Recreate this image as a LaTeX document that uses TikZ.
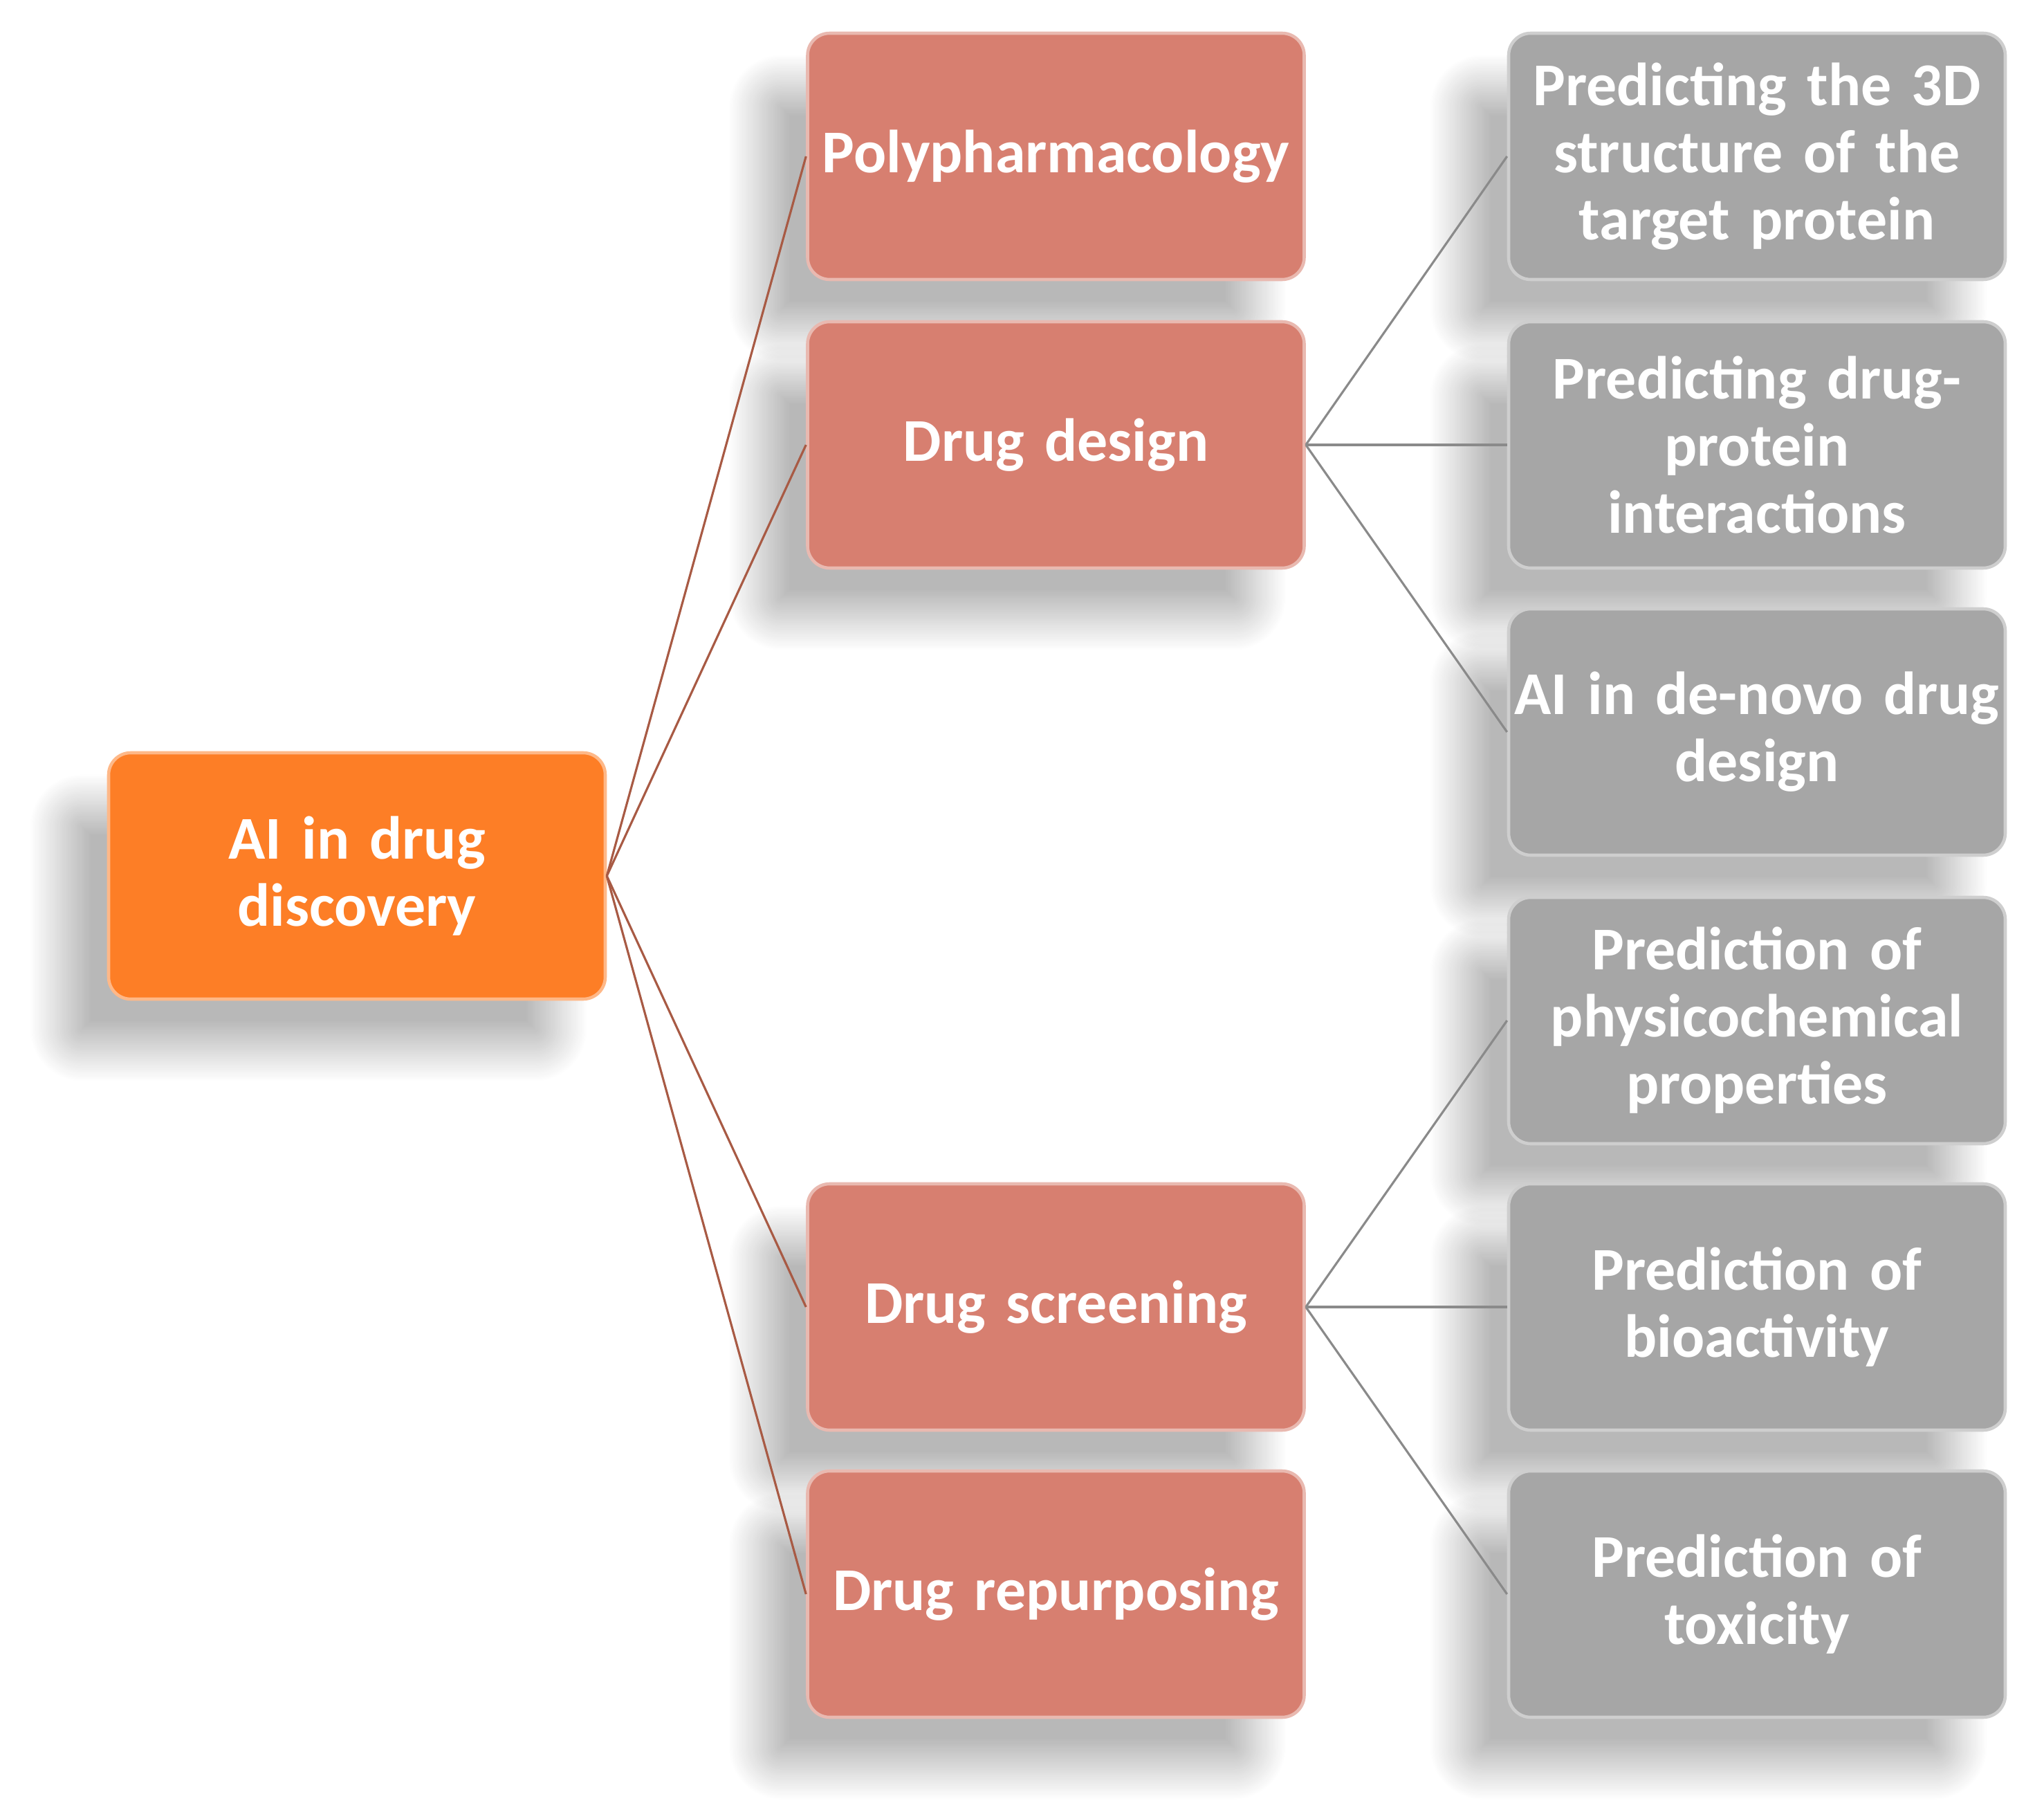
\documentclass[tikz,border=0pt]{standalone}
\usepackage{fontspec}
\setmainfont{Carlito}[WordSpace=0.8]
\usetikzlibrary{shadows.blur}
\definecolor{rootc}{HTML}{FD7E26}
\definecolor{redc}{HTML}{D77F70}
\definecolor{grayc}{HTML}{A6A6A6}
\definecolor{brownl}{HTML}{A85A44}
\definecolor{grayl}{HTML}{8A8A8A}
\tikzset{
  box/.style={rounded corners=0.32cm, minimum width=7.18cm, minimum height=3.56cm,
    inner sep=0pt, text width=7.1cm, align=center, text=white,
    font=\fontsize{25}{27.6}\selectfont\bfseries, line width=1.3pt,
    blur shadow={shadow xshift=-0.7cm, shadow yshift=-0.75cm, shadow blur radius=0.45cm,
      shadow opacity=28, shadow blur steps=40}},
  rootbox/.style={box, fill=rootc, draw=rootc!55!white},
  redbox/.style={box, fill=redc, draw=redc!55!white},
  graybox/.style={box, fill=grayc, draw=grayc!55!white},
  redline/.style={draw=brownl, line width=0.9pt},
  grayline/.style={draw=grayl, line width=0.9pt}
}
\begin{document}
\begin{tikzpicture}
\useasboundingbox (0,0) rectangle (29.55,-26.16);
\node[rootbox] (root) at (5.16,-12.66) {AI in drug\\discovery};
\node[redbox] (poly) at (15.265,-2.26) {Polypharmacology};
\node[redbox] (design) at (15.265,-6.43) {Drug design};
\node[redbox] (screen) at (15.265,-18.89) {Drug screening};
\node[redbox] (repurp) at (15.265,-23.04) {Drug repurposing};
\node[graybox] (g1) at (25.40,-2.26) {Predicting the 3D\\structure of the\\target protein};
\node[graybox] (g2) at (25.40,-6.43) {Predicting drug-\\protein\\interactions};
\node[graybox] (g3) at (25.40,-10.58) {AI in de-novo drug\\design};
\node[graybox] (g4) at (25.40,-14.75) {Prediction of\\physicochemical\\properties};
\node[graybox] (g5) at (25.40,-18.89) {Prediction of\\bioactivity};
\node[graybox] (g6) at (25.40,-23.04) {Prediction of\\toxicity};
\draw[redline] (root.east) -- (poly.west);
\draw[redline] (root.east) -- (design.west);
\draw[redline] (root.east) -- (screen.west);
\draw[redline] (root.east) -- (repurp.west);
\draw[grayline] (design.east) -- (g1.west);
\draw[grayline] (design.east) -- (g2.west);
\draw[grayline] (design.east) -- (g3.west);
\draw[grayline] (screen.east) -- (g4.west);
\draw[grayline] (screen.east) -- (g5.west);
\draw[grayline] (screen.east) -- (g6.west);
\end{tikzpicture}
\end{document}
